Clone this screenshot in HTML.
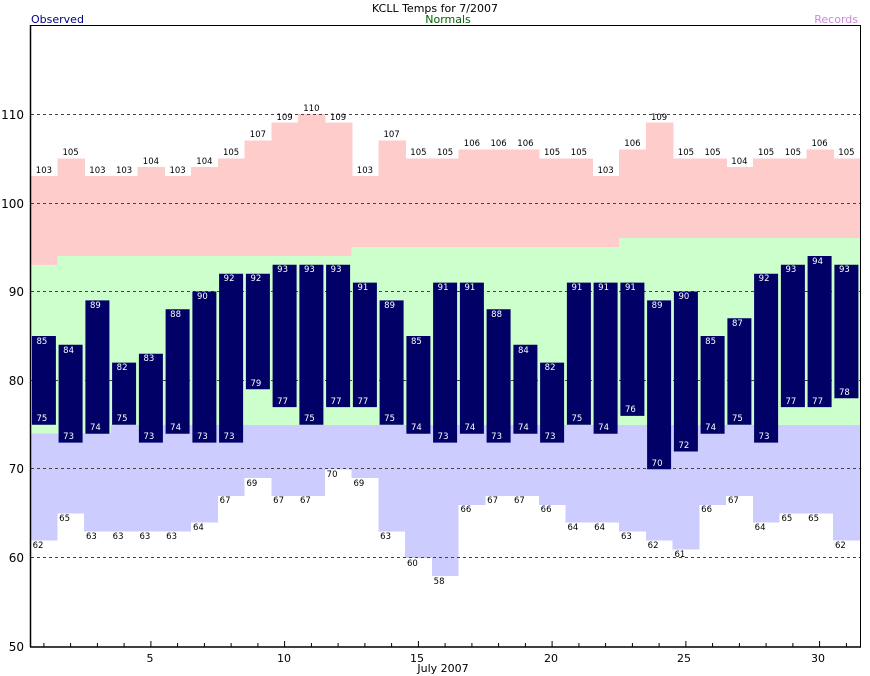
<!DOCTYPE html>
<html><head><meta charset="utf-8"><style>html,body{margin:0;padding:0;background:#fff;overflow:hidden;width:870px;height:676px}svg{display:block}</style></head><body>
<svg width="870" height="676" xmlns="http://www.w3.org/2000/svg" font-family="'DejaVu Sans','Liberation Sans',sans-serif">
<defs><clipPath id="c"><rect x="30.5" y="25" width="830" height="622"/></clipPath></defs>
<rect width="870" height="676" fill="#fff"/>
<g clip-path="url(#c)" shape-rendering="crispEdges">
<g id="bands">
<g transform="translate(30.5,0)"><rect y="176" width="27.5" height="600" fill="#ffcccc"/><rect y="264.8" width="27.5" height="600" fill="#ccffcc"/><rect y="433.7" width="27.5" height="600" fill="#ccccff"/><rect y="540.4" width="27.5" height="600" fill="#fff"/></g>
<g transform="translate(57.25,0)"><rect y="158.3" width="27.5" height="600" fill="#ffcccc"/><rect y="256" width="27.5" height="600" fill="#ccffcc"/><rect y="433.7" width="27.5" height="600" fill="#ccccff"/><rect y="513.7" width="27.5" height="600" fill="#fff"/></g>
<g transform="translate(84,0)"><rect y="176" width="27.5" height="600" fill="#ffcccc"/><rect y="256" width="27.5" height="600" fill="#ccffcc"/><rect y="433.7" width="27.5" height="600" fill="#ccccff"/><rect y="531.5" width="27.5" height="600" fill="#fff"/></g>
<g transform="translate(110.75,0)"><rect y="176" width="27.5" height="600" fill="#ffcccc"/><rect y="256" width="27.5" height="600" fill="#ccffcc"/><rect y="424.8" width="27.5" height="600" fill="#ccccff"/><rect y="531.5" width="27.5" height="600" fill="#fff"/></g>
<g transform="translate(137.5,0)"><rect y="167.2" width="27.5" height="600" fill="#ffcccc"/><rect y="256" width="27.5" height="600" fill="#ccffcc"/><rect y="424.8" width="27.5" height="600" fill="#ccccff"/><rect y="531.5" width="27.5" height="600" fill="#fff"/></g>
<g transform="translate(164.25,0)"><rect y="176" width="27.5" height="600" fill="#ffcccc"/><rect y="256" width="27.5" height="600" fill="#ccffcc"/><rect y="424.8" width="27.5" height="600" fill="#ccccff"/><rect y="531.5" width="27.5" height="600" fill="#fff"/></g>
<g transform="translate(191,0)"><rect y="167.2" width="27.5" height="600" fill="#ffcccc"/><rect y="256" width="27.5" height="600" fill="#ccffcc"/><rect y="424.8" width="27.5" height="600" fill="#ccccff"/><rect y="522.6" width="27.5" height="600" fill="#fff"/></g>
<g transform="translate(217.75,0)"><rect y="158.3" width="27.5" height="600" fill="#ffcccc"/><rect y="256" width="27.5" height="600" fill="#ccffcc"/><rect y="424.8" width="27.5" height="600" fill="#ccccff"/><rect y="495.9" width="27.5" height="600" fill="#fff"/></g>
<g transform="translate(244.5,0)"><rect y="140.5" width="27.5" height="600" fill="#ffcccc"/><rect y="256" width="27.5" height="600" fill="#ccffcc"/><rect y="424.8" width="27.5" height="600" fill="#ccccff"/><rect y="478.2" width="27.5" height="600" fill="#fff"/></g>
<g transform="translate(271.25,0)"><rect y="122.7" width="27.5" height="600" fill="#ffcccc"/><rect y="256" width="27.5" height="600" fill="#ccffcc"/><rect y="424.8" width="27.5" height="600" fill="#ccccff"/><rect y="495.9" width="27.5" height="600" fill="#fff"/></g>
<g transform="translate(298,0)"><rect y="113.8" width="27.5" height="600" fill="#ffcccc"/><rect y="256" width="27.5" height="600" fill="#ccffcc"/><rect y="424.8" width="27.5" height="600" fill="#ccccff"/><rect y="495.9" width="27.5" height="600" fill="#fff"/></g>
<g transform="translate(324.75,0)"><rect y="122.7" width="27.5" height="600" fill="#ffcccc"/><rect y="256" width="27.5" height="600" fill="#ccffcc"/><rect y="424.8" width="27.5" height="600" fill="#ccccff"/><rect y="469.3" width="27.5" height="600" fill="#fff"/></g>
<g transform="translate(351.5,0)"><rect y="176" width="27.5" height="600" fill="#ffcccc"/><rect y="247.1" width="27.5" height="600" fill="#ccffcc"/><rect y="424.8" width="27.5" height="600" fill="#ccccff"/><rect y="478.2" width="27.5" height="600" fill="#fff"/></g>
<g transform="translate(378.25,0)"><rect y="140.5" width="27.5" height="600" fill="#ffcccc"/><rect y="247.1" width="27.5" height="600" fill="#ccffcc"/><rect y="424.8" width="27.5" height="600" fill="#ccccff"/><rect y="531.5" width="27.5" height="600" fill="#fff"/></g>
<g transform="translate(405,0)"><rect y="158.3" width="27.5" height="600" fill="#ffcccc"/><rect y="247.1" width="27.5" height="600" fill="#ccffcc"/><rect y="424.8" width="27.5" height="600" fill="#ccccff"/><rect y="558.1" width="27.5" height="600" fill="#fff"/></g>
<g transform="translate(431.75,0)"><rect y="158.3" width="27.5" height="600" fill="#ffcccc"/><rect y="247.1" width="27.5" height="600" fill="#ccffcc"/><rect y="424.8" width="27.5" height="600" fill="#ccccff"/><rect y="575.9" width="27.5" height="600" fill="#fff"/></g>
<g transform="translate(458.5,0)"><rect y="149.4" width="27.5" height="600" fill="#ffcccc"/><rect y="247.1" width="27.5" height="600" fill="#ccffcc"/><rect y="424.8" width="27.5" height="600" fill="#ccccff"/><rect y="504.8" width="27.5" height="600" fill="#fff"/></g>
<g transform="translate(485.25,0)"><rect y="149.4" width="27.5" height="600" fill="#ffcccc"/><rect y="247.1" width="27.5" height="600" fill="#ccffcc"/><rect y="424.8" width="27.5" height="600" fill="#ccccff"/><rect y="495.9" width="27.5" height="600" fill="#fff"/></g>
<g transform="translate(512,0)"><rect y="149.4" width="27.5" height="600" fill="#ffcccc"/><rect y="247.1" width="27.5" height="600" fill="#ccffcc"/><rect y="424.8" width="27.5" height="600" fill="#ccccff"/><rect y="495.9" width="27.5" height="600" fill="#fff"/></g>
<g transform="translate(538.75,0)"><rect y="158.3" width="27.5" height="600" fill="#ffcccc"/><rect y="247.1" width="27.5" height="600" fill="#ccffcc"/><rect y="424.8" width="27.5" height="600" fill="#ccccff"/><rect y="504.8" width="27.5" height="600" fill="#fff"/></g>
<g transform="translate(565.5,0)"><rect y="158.3" width="27.5" height="600" fill="#ffcccc"/><rect y="247.1" width="27.5" height="600" fill="#ccffcc"/><rect y="424.8" width="27.5" height="600" fill="#ccccff"/><rect y="522.6" width="27.5" height="600" fill="#fff"/></g>
<g transform="translate(592.25,0)"><rect y="176" width="27.5" height="600" fill="#ffcccc"/><rect y="247.1" width="27.5" height="600" fill="#ccffcc"/><rect y="424.8" width="27.5" height="600" fill="#ccccff"/><rect y="522.6" width="27.5" height="600" fill="#fff"/></g>
<g transform="translate(619,0)"><rect y="149.4" width="27.5" height="600" fill="#ffcccc"/><rect y="238.2" width="27.5" height="600" fill="#ccffcc"/><rect y="424.8" width="27.5" height="600" fill="#ccccff"/><rect y="531.5" width="27.5" height="600" fill="#fff"/></g>
<g transform="translate(645.75,0)"><rect y="122.7" width="27.5" height="600" fill="#ffcccc"/><rect y="238.2" width="27.5" height="600" fill="#ccffcc"/><rect y="424.8" width="27.5" height="600" fill="#ccccff"/><rect y="540.4" width="27.5" height="600" fill="#fff"/></g>
<g transform="translate(672.5,0)"><rect y="158.3" width="27.5" height="600" fill="#ffcccc"/><rect y="238.2" width="27.5" height="600" fill="#ccffcc"/><rect y="424.8" width="27.5" height="600" fill="#ccccff"/><rect y="549.3" width="27.5" height="600" fill="#fff"/></g>
<g transform="translate(699.25,0)"><rect y="158.3" width="27.5" height="600" fill="#ffcccc"/><rect y="238.2" width="27.5" height="600" fill="#ccffcc"/><rect y="424.8" width="27.5" height="600" fill="#ccccff"/><rect y="504.8" width="27.5" height="600" fill="#fff"/></g>
<g transform="translate(726,0)"><rect y="167.2" width="27.5" height="600" fill="#ffcccc"/><rect y="238.2" width="27.5" height="600" fill="#ccffcc"/><rect y="424.8" width="27.5" height="600" fill="#ccccff"/><rect y="495.9" width="27.5" height="600" fill="#fff"/></g>
<g transform="translate(752.75,0)"><rect y="158.3" width="27.5" height="600" fill="#ffcccc"/><rect y="238.2" width="27.5" height="600" fill="#ccffcc"/><rect y="424.8" width="27.5" height="600" fill="#ccccff"/><rect y="522.6" width="27.5" height="600" fill="#fff"/></g>
<g transform="translate(779.5,0)"><rect y="158.3" width="27.5" height="600" fill="#ffcccc"/><rect y="238.2" width="27.5" height="600" fill="#ccffcc"/><rect y="424.8" width="27.5" height="600" fill="#ccccff"/><rect y="513.7" width="27.5" height="600" fill="#fff"/></g>
<g transform="translate(806.25,0)"><rect y="149.4" width="27.5" height="600" fill="#ffcccc"/><rect y="238.2" width="27.5" height="600" fill="#ccffcc"/><rect y="424.8" width="27.5" height="600" fill="#ccccff"/><rect y="513.7" width="27.5" height="600" fill="#fff"/></g>
<g transform="translate(833,0)"><rect y="158.3" width="28" height="600" fill="#ffcccc"/><rect y="238.2" width="28" height="600" fill="#ccffcc"/><rect y="424.8" width="28" height="600" fill="#ccccff"/><rect y="540.4" width="28" height="600" fill="#fff"/></g>
</g>
<g stroke="#444" stroke-width="1" stroke-dasharray="3,3">
<line x1="31" x2="860" y1="114.5" y2="114.5"/><line x1="31" x2="860" y1="203.5" y2="203.5"/><line x1="31" x2="860" y1="291.5" y2="291.5"/><line x1="31" x2="860" y1="380.5" y2="380.5"/><line x1="31" x2="860" y1="468.5" y2="468.5"/><line x1="31" x2="860" y1="557.5" y2="557.5"/>
</g>
</g>
<g stroke="#000066" stroke-width="24">
<line x1="43.9" x2="43.9" y1="336" y2="424.8"/>
<line x1="70.6" x2="70.6" y1="344.8" y2="442.6"/>
<line x1="97.4" x2="97.4" y1="300.4" y2="433.7"/>
<line x1="124.1" x2="124.1" y1="362.6" y2="424.8"/>
<line x1="150.9" x2="150.9" y1="353.7" y2="442.6"/>
<line x1="177.6" x2="177.6" y1="309.3" y2="433.7"/>
<line x1="204.4" x2="204.4" y1="291.5" y2="442.6"/>
<line x1="231.1" x2="231.1" y1="273.7" y2="442.6"/>
<line x1="257.9" x2="257.9" y1="273.7" y2="389.3"/>
<line x1="284.6" x2="284.6" y1="264.8" y2="407.1"/>
<line x1="311.4" x2="311.4" y1="264.8" y2="424.8"/>
<line x1="338.1" x2="338.1" y1="264.8" y2="407.1"/>
<line x1="364.9" x2="364.9" y1="282.6" y2="407.1"/>
<line x1="391.6" x2="391.6" y1="300.4" y2="424.8"/>
<line x1="418.4" x2="418.4" y1="336" y2="433.7"/>
<line x1="445.1" x2="445.1" y1="282.6" y2="442.6"/>
<line x1="471.9" x2="471.9" y1="282.6" y2="433.7"/>
<line x1="498.6" x2="498.6" y1="309.3" y2="442.6"/>
<line x1="525.4" x2="525.4" y1="344.8" y2="433.7"/>
<line x1="552.1" x2="552.1" y1="362.6" y2="442.6"/>
<line x1="578.9" x2="578.9" y1="282.6" y2="424.8"/>
<line x1="605.6" x2="605.6" y1="282.6" y2="433.7"/>
<line x1="632.4" x2="632.4" y1="282.6" y2="415.9"/>
<line x1="659.1" x2="659.1" y1="300.4" y2="469.3"/>
<line x1="685.9" x2="685.9" y1="291.5" y2="451.5"/>
<line x1="712.6" x2="712.6" y1="336" y2="433.7"/>
<line x1="739.4" x2="739.4" y1="318.2" y2="424.8"/>
<line x1="766.1" x2="766.1" y1="273.7" y2="442.6"/>
<line x1="792.9" x2="792.9" y1="264.8" y2="407.1"/>
<line x1="819.6" x2="819.6" y1="256" y2="407.1"/>
<line x1="846.4" x2="846.4" y1="264.8" y2="398.2"/>
</g>
<g font-size="8.5" text-anchor="middle" fill="#000">
<text x="43.9" y="173">103</text><text x="70.6" y="155">105</text><text x="97.4" y="173">103</text><text x="124.1" y="173">103</text><text x="150.9" y="164">104</text><text x="177.6" y="173">103</text><text x="204.4" y="164">104</text><text x="231.1" y="155">105</text><text x="257.9" y="137">107</text><text x="284.6" y="120">109</text><text x="311.4" y="111">110</text><text x="338.1" y="120">109</text><text x="364.9" y="173">103</text><text x="391.6" y="137">107</text><text x="418.4" y="155">105</text><text x="445.1" y="155">105</text><text x="471.9" y="146">106</text><text x="498.6" y="146">106</text><text x="525.4" y="146">106</text><text x="552.1" y="155">105</text><text x="578.9" y="155">105</text><text x="605.6" y="173">103</text><text x="632.4" y="146">106</text><text x="659.1" y="120">109</text><text x="685.9" y="155">105</text><text x="712.6" y="155">105</text><text x="739.4" y="164">104</text><text x="766.1" y="155">105</text><text x="792.9" y="155">105</text><text x="819.6" y="146">106</text><text x="846.4" y="155">105</text>
<text x="38" y="548">62</text><text x="64.6" y="521">65</text><text x="91.4" y="539">63</text><text x="118.1" y="539">63</text><text x="144.9" y="539">63</text><text x="171.6" y="539">63</text><text x="198.4" y="530">64</text><text x="225.1" y="503">67</text><text x="251.9" y="486">69</text><text x="278.6" y="503">67</text><text x="305.4" y="503">67</text><text x="332.1" y="477">70</text><text x="358.9" y="486">69</text><text x="385.6" y="539">63</text><text x="412.4" y="566">60</text><text x="439.1" y="584">58</text><text x="465.9" y="512">66</text><text x="492.6" y="503">67</text><text x="519.4" y="503">67</text><text x="546.1" y="512">66</text><text x="572.9" y="530">64</text><text x="599.6" y="530">64</text><text x="626.4" y="539">63</text><text x="653.1" y="548">62</text><text x="679.9" y="557">61</text><text x="706.6" y="512">66</text><text x="733.4" y="503">67</text><text x="760.1" y="530">64</text><text x="786.9" y="521">65</text><text x="813.6" y="521">65</text><text x="840.4" y="548">62</text>
</g>
<g font-size="8.5" text-anchor="middle" fill="#fff">
<text x="41.9" y="344">85</text><text x="68.6" y="353">84</text><text x="95.4" y="308">89</text><text x="122.1" y="370">82</text><text x="148.9" y="361">83</text><text x="175.6" y="317">88</text><text x="202.4" y="299">90</text><text x="229.1" y="281">92</text><text x="255.9" y="281">92</text><text x="282.6" y="272">93</text><text x="309.4" y="272">93</text><text x="336.1" y="272">93</text><text x="362.9" y="290">91</text><text x="389.6" y="308">89</text><text x="416.4" y="344">85</text><text x="443.1" y="290">91</text><text x="469.9" y="290">91</text><text x="496.6" y="317">88</text><text x="523.4" y="353">84</text><text x="550.1" y="370">82</text><text x="576.9" y="290">91</text><text x="603.6" y="290">91</text><text x="630.4" y="290">91</text><text x="657.1" y="308">89</text><text x="683.9" y="299">90</text><text x="710.6" y="344">85</text><text x="737.4" y="326">87</text><text x="764.1" y="281">92</text><text x="790.9" y="272">93</text><text x="817.6" y="264">94</text><text x="844.4" y="272">93</text>
<text x="41.9" y="421">75</text><text x="68.6" y="439">73</text><text x="95.4" y="430">74</text><text x="122.1" y="421">75</text><text x="148.9" y="439">73</text><text x="175.6" y="430">74</text><text x="202.4" y="439">73</text><text x="229.1" y="439">73</text><text x="255.9" y="386">79</text><text x="282.6" y="404">77</text><text x="309.4" y="421">75</text><text x="336.1" y="404">77</text><text x="362.9" y="404">77</text><text x="389.6" y="421">75</text><text x="416.4" y="430">74</text><text x="443.1" y="439">73</text><text x="469.9" y="430">74</text><text x="496.6" y="439">73</text><text x="523.4" y="430">74</text><text x="550.1" y="439">73</text><text x="576.9" y="421">75</text><text x="603.6" y="430">74</text><text x="630.4" y="412">76</text><text x="657.1" y="466">70</text><text x="683.9" y="448">72</text><text x="710.6" y="430">74</text><text x="737.4" y="421">75</text><text x="764.1" y="439">73</text><text x="790.9" y="404">77</text><text x="817.6" y="404">77</text><text x="844.4" y="395">78</text>
</g>
<rect x="30.5" y="25.5" width="830" height="621.5" fill="none" stroke="#000" stroke-width="1"/>
<line x1="30.5" y1="25" x2="30.5" y2="647" stroke="#000" stroke-width="1.5"/>
<line x1="30" y1="647" x2="861" y2="647" stroke="#000" stroke-width="1.5"/>
<g stroke="#000" stroke-width="1">
<line x1="43.9" x2="43.9" y1="643" y2="647"/><line x1="70.6" x2="70.6" y1="643" y2="647"/><line x1="97.4" x2="97.4" y1="643" y2="647"/><line x1="124.1" x2="124.1" y1="643" y2="647"/><line x1="150.9" x2="150.9" y1="641" y2="647"/><line x1="177.6" x2="177.6" y1="643" y2="647"/><line x1="204.4" x2="204.4" y1="643" y2="647"/><line x1="231.1" x2="231.1" y1="643" y2="647"/><line x1="257.9" x2="257.9" y1="643" y2="647"/><line x1="284.6" x2="284.6" y1="641" y2="647"/><line x1="311.4" x2="311.4" y1="643" y2="647"/><line x1="338.1" x2="338.1" y1="643" y2="647"/><line x1="364.9" x2="364.9" y1="643" y2="647"/><line x1="391.6" x2="391.6" y1="643" y2="647"/><line x1="418.4" x2="418.4" y1="641" y2="647"/><line x1="445.1" x2="445.1" y1="643" y2="647"/><line x1="471.9" x2="471.9" y1="643" y2="647"/><line x1="498.6" x2="498.6" y1="643" y2="647"/><line x1="525.4" x2="525.4" y1="643" y2="647"/><line x1="552.1" x2="552.1" y1="641" y2="647"/><line x1="578.9" x2="578.9" y1="643" y2="647"/><line x1="605.6" x2="605.6" y1="643" y2="647"/><line x1="632.4" x2="632.4" y1="643" y2="647"/><line x1="659.1" x2="659.1" y1="643" y2="647"/><line x1="685.9" x2="685.9" y1="641" y2="647"/><line x1="712.6" x2="712.6" y1="643" y2="647"/><line x1="739.4" x2="739.4" y1="643" y2="647"/><line x1="766.1" x2="766.1" y1="643" y2="647"/><line x1="792.9" x2="792.9" y1="643" y2="647"/><line x1="819.6" x2="819.6" y1="641" y2="647"/><line x1="846.4" x2="846.4" y1="643" y2="647"/>
</g>
<g font-size="12" text-anchor="end" fill="#000">
<text x="24" y="119">110</text><text x="24" y="208">100</text><text x="24" y="296">90</text><text x="24" y="385">80</text><text x="24" y="473">70</text><text x="24" y="562">60</text><text x="24" y="651">50</text>
</g>
<g font-size="11" text-anchor="middle" fill="#000">
<text x="150" y="662">5</text><text x="284" y="662">10</text><text x="417" y="662">15</text><text x="551" y="662">20</text><text x="684" y="662">25</text><text x="818" y="662">30</text>
<text x="443" y="672">July 2007</text>
<text x="435" y="12">KCLL Temps for 7/2007</text>
<text x="448" y="23" fill="#006600">Normals</text>
</g>
<text x="31" y="23" font-size="11" fill="#000080">Observed</text>
<text x="858" y="23" font-size="11" fill="#cc88dd" text-anchor="end">Records</text>
</svg>
</body></html>
